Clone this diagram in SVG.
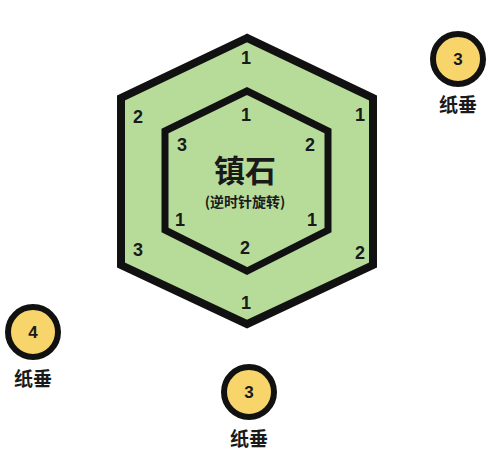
<svg xmlns="http://www.w3.org/2000/svg" width="500" height="460" viewBox="0 0 500 460">
<style>
.hex{fill:#b7dc9a;stroke:#111;stroke-linejoin:miter}
.num{font-family:"Liberation Sans",Arial,sans-serif;font-weight:bold;font-size:18px;fill:#1a1a1a;text-anchor:middle}
.cjk{font-family:"Noto Sans CJK SC","Liberation Sans",sans-serif;font-weight:bold;fill:#1a1a1a;text-anchor:middle}
.weight{fill:#f8d56a;stroke:#111;stroke-width:6}
.wnum{font-family:"Liberation Sans",Arial,sans-serif;font-weight:bold;font-size:17px;fill:#1a1a1a;text-anchor:middle}
</style>
<rect width="500" height="460" fill="#ffffff"/>
<g id="outer-hex">
<polygon class="hex" stroke-width="8" points="247,38 121,98 121,265 247,324 373,265 373,98"/>
<text class="num" x="246" y="64">1</text>
<text class="num" x="138" y="123">2</text>
<text class="num" x="360" y="121">1</text>
<text class="num" x="138" y="256">3</text>
<text class="num" x="360" y="259">2</text>
<text class="num" x="246" y="309">1</text>
</g>
<g id="inner-hex">
<polygon class="hex" stroke-width="7" points="247,91 165,131 165,230 247,271 328,230 328,131"/>
<text class="num" x="246" y="121">1</text>
<text class="num" x="182" y="151">3</text>
<text class="num" x="310" y="151">2</text>
<text class="num" x="180" y="226">1</text>
<text class="num" x="312" y="226">1</text>
<text class="num" x="245" y="254">2</text>
<text class="cjk" x="245" y="182" font-size="31">镇石</text>
<text class="cjk" x="245" y="207" font-size="14">(逆时针旋转)</text>
</g>
<g id="weight-top-right">
<circle class="weight" cx="458" cy="59" r="25"/>
<text class="wnum" x="458" y="65">3</text>
<text class="cjk" x="458" y="112" font-size="19">纸垂</text>
</g>
<g id="weight-left">
<circle class="weight" cx="33" cy="332" r="25"/>
<text class="wnum" x="33" y="338">4</text>
<text class="cjk" x="33" y="386" font-size="19">纸垂</text>
</g>
<g id="weight-bottom">
<circle class="weight" cx="249" cy="392" r="25"/>
<text class="wnum" x="249" y="398">3</text>
<text class="cjk" x="249" y="446" font-size="19">纸垂</text>
</g>
<g id="connectors"></g>
</svg>
